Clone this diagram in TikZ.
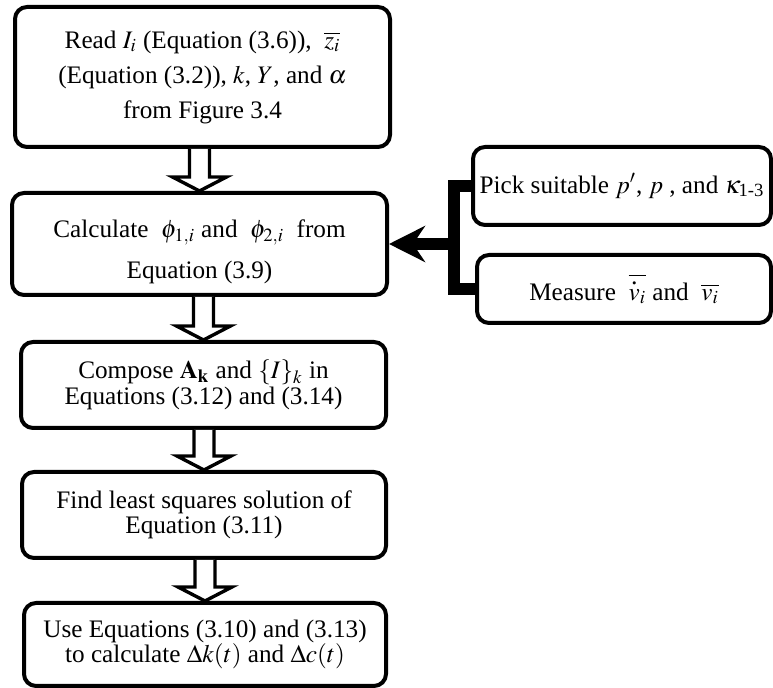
\documentclass[tikz,border=0pt]{standalone}
\usepackage{amsmath}
\usepackage{mathptmx}
\usepackage[no-math]{fontspec}
\setmainfont{Liberation Serif}
\usetikzlibrary{arrows.meta,calc}

\tikzset{
  stepbox/.style={draw, line width=2pt, rounded corners=6pt, align=center, inner sep=2pt,
    font=\fontsize{12.6pt}{12.8pt}\selectfont},
  fat/.style={draw, line width=1.7pt, fill=white},
  bracket/.style={line width=6pt},
  feed/.style={line width=6pt, -{Stealth[length=18pt,width=18pt,inset=6pt]}}
}
\newcommand{\fatarrow}[2]{%
  \draw[fat] let \p1=(#1.south), \p2=(#2.north) in
    (\x2-5pt,\y1) -- (\x2-5pt,\y2+7pt) -- (\x2-13.5pt,\y2+7pt) -- (\x2,\y2)
    -- (\x2+13.5pt,\y2+7pt) -- (\x2+5pt,\y2+7pt) -- (\x2+5pt,\y1);}
\newcommand{\dotv}{\overset{\mbox{\fontsize{13pt}{13pt}\selectfont .}}{v}}

\begin{document}
\begin{tikzpicture}[x=0.5pt, y=-0.5pt]
\useasboundingbox (0,0) rectangle (773,688);
% main column
\node[stepbox, minimum width=187.5pt, minimum height=70pt, font=\fontsize{12.6pt}{17.5pt}\selectfont] (read) at (202.5,77)
  {Read $I_i$ (Equation (3.6)), \ $\overline{z_i}$\\ (Equation (3.2)), $k$, $Y$, and $\alpha$\\ from Figure 3.4};
\node[stepbox, minimum width=187.5pt, minimum height=51pt,
  label={[font=\fontsize{12.6pt}{20.5pt}\selectfont, align=center, yshift=-4pt]center:Calculate \ $\phi_{1,i}$ and \ $\phi_{2,i}$ \ from\\ Equation (3.9)}] (calc) at (199.5,244) {};
\node[stepbox, minimum width=182.5pt, minimum height=43pt] (comp) at (203.5,385)
  {Compose $\mathbf{A}_{\mathbf{k}}$ and $\{I\}_k$ in\\ Equations (3.12) and (3.14)};
\node[stepbox, minimum width=182pt, minimum height=43pt] (find) at (204,515)
  {Find least squares solution of\\ Equation (3.11)};
\node[stepbox, minimum width=181pt, minimum height=41.5pt] (use) at (205,644.5)
  {Use Equations (3.10) and (3.13)\\ to calculate $\Delta k(t)$ and $\Delta c(t)$};
% inputs on the right
\node[stepbox, minimum width=149pt, minimum height=39pt] (pick) at (622,186)
  {Pick suitable $p'$, $p$ , and $\kappa_{\text{1-3}}$};
\node[stepbox, minimum width=147pt, minimum height=34pt] (meas) at (624,289)
  {Measure \ $\overline{\dotv_i}$ and \ $\overline{v_i}$};
\coordinate (jn) at (454,244);

\fatarrow{read}{calc}
\fatarrow{calc}{comp}
\fatarrow{comp}{find}
\fatarrow{find}{use}

\draw[bracket] (pick.west) -| (jn) |- (meas.west);
\draw[feed] (jn) -- (calc.east);
\end{tikzpicture}
\end{document}
